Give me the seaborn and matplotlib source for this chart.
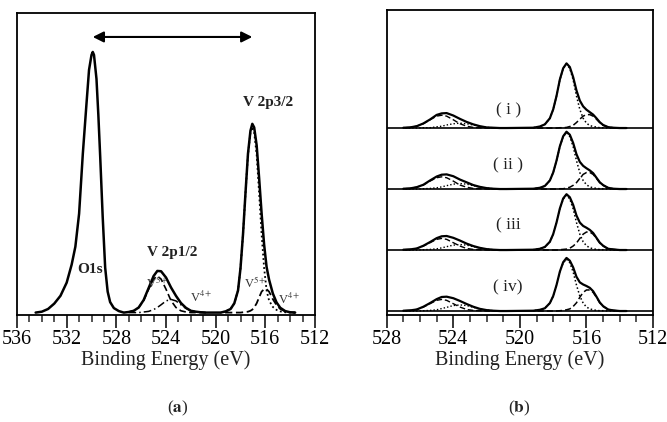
import matplotlib.pyplot as plt
import numpy as np
import seaborn as sns
from matplotlib.ticker import MultipleLocator

sns.set_style('white')
plt.rcParams['font.family'] = ['Liberation Serif', 'DejaVu Serif']
plt.rcParams['mathtext.fontset'] = 'stix'

# ---------------- panel (a): O1s + V 2p fit (intensity, arb. units) ----------------
o1s_energy = [534.5, 534.0, 533.5, 533.0, 532.5, 532.0, 531.6, 531.3, 531.0, 530.7, 530.4, 530.2,
              530.0, 529.9, 529.8, 529.6, 529.45, 529.3, 529.1, 528.9, 528.7, 528.5, 528.2, 527.8, 527.4]
o1s_counts = [0.0, 0.003, 0.012, 0.03, 0.056, 0.10, 0.16, 0.22, 0.33, 0.53, 0.70, 0.81,
              0.86, 0.87, 0.86, 0.78, 0.66, 0.52, 0.32, 0.15, 0.07, 0.035, 0.015, 0.005, 0.0]

v2p1_energy_a = [527.0, 526.6, 526.2, 525.8, 525.4, 525.0, 524.7, 524.4, 524.0, 523.6, 523.2,
                 522.8, 522.4, 522.0, 521.6, 521.2, 520.8]
v2p1_v5_a = [0.002, 0.006, 0.017, 0.040, 0.078, 0.112, 0.122, 0.112, 0.078, 0.040, 0.017,
             0.006, 0.002, 0.0, 0.0, 0.0, 0.0]
v2p1_v4_a = [0.0, 0.0, 0.0, 0.002, 0.004, 0.010, 0.017, 0.026, 0.039, 0.044, 0.039,
             0.026, 0.014, 0.006, 0.003, 0.001, 0.0]

v2p3_energy_a = [519.6, 519.2, 518.8, 518.5, 518.2, 518.0, 517.8, 517.6, 517.4, 517.2, 517.05, 516.9,
                 516.7, 516.5, 516.3, 516.1, 515.9, 515.7, 515.4, 515.1, 514.8, 514.4, 514.0, 513.6]
v2p3_v5_a = [0.0, 0.004, 0.012, 0.031, 0.074, 0.149, 0.260, 0.397, 0.527, 0.601, 0.620, 0.601,
             0.527, 0.397, 0.260, 0.149, 0.074, 0.040, 0.019, 0.009, 0.004, 0.001, 0.0, 0.0]
v2p3_v4_a = [0.0, 0.0, 0.0, 0.0, 0.0, 0.0, 0.001, 0.002, 0.003, 0.006, 0.010, 0.017,
             0.031, 0.051, 0.070, 0.078, 0.078, 0.070, 0.045, 0.025, 0.012, 0.004, 0.001, 0.0]

# ---------------- panel (b): V 2p for four samples ----------------
sample_labels = ['( i )', '( ii )', '( iii', '( iv)']

v2p1_energy_b = [527.0, 526.6, 526.2, 525.8, 525.4, 525.0, 524.7, 524.4, 524.0, 523.6, 523.2,
                 522.8, 522.4, 522.0, 521.6, 521.2, 520.8]
v2p1_v5_b = [
    [0.001, 0.002, 0.006, 0.014, 0.027, 0.039, 0.042, 0.039, 0.027, 0.014, 0.006, 0.002, 0.001, 0.0, 0.0, 0.0, 0.0],
    [0.001, 0.002, 0.006, 0.013, 0.026, 0.037, 0.040, 0.037, 0.026, 0.013, 0.006, 0.002, 0.001, 0.0, 0.0, 0.0, 0.0],
    [0.001, 0.002, 0.005, 0.013, 0.024, 0.035, 0.038, 0.035, 0.024, 0.013, 0.005, 0.002, 0.001, 0.0, 0.0, 0.0, 0.0],
    [0.001, 0.002, 0.005, 0.013, 0.024, 0.035, 0.038, 0.035, 0.024, 0.013, 0.005, 0.002, 0.001, 0.0, 0.0, 0.0, 0.0],
]
v2p1_v4_b = [
    [0.0, 0.0, 0.0, 0.001, 0.001, 0.004, 0.006, 0.010, 0.014, 0.016, 0.014, 0.010, 0.005, 0.002, 0.001, 0.0, 0.0],
    [0.0, 0.0, 0.0, 0.001, 0.002, 0.004, 0.007, 0.011, 0.016, 0.018, 0.016, 0.011, 0.006, 0.003, 0.001, 0.0, 0.0],
    [0.0, 0.0, 0.0, 0.001, 0.002, 0.004, 0.007, 0.011, 0.016, 0.018, 0.016, 0.011, 0.006, 0.003, 0.001, 0.0, 0.0],
    [0.0, 0.0, 0.0, 0.001, 0.002, 0.004, 0.008, 0.012, 0.018, 0.020, 0.018, 0.012, 0.006, 0.003, 0.001, 0.0, 0.0],
]

v2p3_energy_b = [519.2, 518.8, 518.5, 518.2, 518.0, 517.8, 517.6, 517.4, 517.2, 517.0, 516.8, 516.6,
                 516.4, 516.2, 516.0, 515.8, 515.6, 515.4, 515.2, 515.0, 514.7, 514.4, 514.0, 513.6]
v2p3_v5_b = [
    [0.001, 0.005, 0.012, 0.032, 0.061, 0.105, 0.158, 0.195, 0.210, 0.195, 0.158, 0.105,
     0.061, 0.032, 0.016, 0.008, 0.005, 0.003, 0.001, 0.001, 0.0, 0.0, 0.0, 0.0],
    [0.001, 0.004, 0.010, 0.028, 0.054, 0.093, 0.139, 0.172, 0.185, 0.172, 0.139, 0.093,
     0.054, 0.028, 0.014, 0.007, 0.004, 0.002, 0.001, 0.001, 0.0, 0.0, 0.0, 0.0],
    [0.001, 0.004, 0.010, 0.027, 0.052, 0.090, 0.135, 0.167, 0.180, 0.167, 0.135, 0.090,
     0.052, 0.027, 0.014, 0.007, 0.004, 0.002, 0.001, 0.001, 0.0, 0.0, 0.0, 0.0],
    [0.001, 0.004, 0.009, 0.026, 0.049, 0.085, 0.128, 0.158, 0.170, 0.158, 0.128, 0.085,
     0.049, 0.026, 0.013, 0.007, 0.004, 0.002, 0.001, 0.001, 0.0, 0.0, 0.0, 0.0],
]
v2p3_v4_b = [
    [0.0, 0.0, 0.0, 0.0, 0.0, 0.0, 0.001, 0.001, 0.002, 0.005, 0.009, 0.018,
     0.029, 0.039, 0.044, 0.044, 0.039, 0.029, 0.018, 0.009, 0.003, 0.001, 0.0, 0.0],
    [0.0, 0.0, 0.0, 0.0, 0.0, 0.0, 0.001, 0.001, 0.003, 0.006, 0.012, 0.021,
     0.035, 0.048, 0.054, 0.054, 0.048, 0.035, 0.021, 0.012, 0.004, 0.001, 0.0, 0.0],
    [0.0, 0.0, 0.0, 0.0, 0.0, 0.0, 0.001, 0.002, 0.003, 0.006, 0.013, 0.023,
     0.038, 0.052, 0.059, 0.059, 0.052, 0.038, 0.023, 0.013, 0.004, 0.002, 0.0, 0.0],
    [0.0, 0.0, 0.0, 0.0, 0.0, 0.0, 0.001, 0.002, 0.004, 0.007, 0.015, 0.027,
     0.045, 0.061, 0.069, 0.069, 0.061, 0.045, 0.027, 0.015, 0.005, 0.002, 0.0, 0.0],
]

DASHED = (0, (4, 2))
DOTTED = (0, (1, 1.5))
DASHDOT = (0, (5, 2, 1, 2))


def draw(ax, x, y, ls='-', lw=1.6, offset=0.0):
    sns.lineplot(x=np.asarray(x, dtype=float), y=np.asarray(y, dtype=float) + offset, ax=ax,
                 color='black', linewidth=lw, linestyle=ls, estimator=None, sort=True)


def style_axis(ax, xmin, xmax):
    ax.set_xlim(xmin, xmax)
    ax.xaxis.set_major_locator(MultipleLocator(4))
    ax.xaxis.set_minor_locator(MultipleLocator(1))
    ax.tick_params(axis='x', which='major', direction='out', length=9, width=1.1,
                   labelsize=14.5, pad=2, bottom=True, colors='black')
    ax.tick_params(axis='x', which='minor', direction='out', length=5, width=1.1, bottom=True)
    ax.set_yticks([])
    ax.set_ylabel('')
    ax.set_xlabel('Binding Energy (eV)', fontsize=14.5, labelpad=1, color='#222222')
    for sp in ax.spines.values():
        sp.set_linewidth(1.3)
        sp.set_color('black')
        sp.set_visible(True)


fig = plt.figure(figsize=(6.67, 4.22), dpi=100)
ax_a = fig.add_axes([0.0255, 0.2536, 0.4468, 0.7156])
ax_b = fig.add_axes([0.5798, 0.2536, 0.3993, 0.7227])

# ---- (a) ----
env_x = o1s_energy + v2p1_energy_a + v2p3_energy_a
env_y = o1s_counts + list(np.add(v2p1_v5_a, v2p1_v4_a)) + list(np.add(v2p3_v5_a, v2p3_v4_a))
draw(ax_a, env_x, env_y, lw=1.8)
draw(ax_a, v2p1_energy_a, v2p1_v5_a, ls=DASHED, lw=1.2)
draw(ax_a, v2p1_energy_a, v2p1_v4_a, ls=DASHDOT, lw=1.1)
draw(ax_a, v2p3_energy_a, v2p3_v5_a, ls=DOTTED, lw=1.3)
draw(ax_a, v2p3_energy_a, v2p3_v4_a, ls=DASHED, lw=1.3)
ax_a.set_ylim(-0.008, 1.0)
style_axis(ax_a, 536, 512)

ax_a.annotate('', xy=(517.05, 0.92), xytext=(529.9, 0.92),
              arrowprops=dict(arrowstyle='<|-|>', color='black', lw=1.5,
                              mutation_scale=16, shrinkA=0, shrinkB=0))
bold = dict(fontsize=11, fontweight='bold', ha='center', va='center', color='#222222')
ax_a.text(515.76, 0.70, 'V 2p3/2', **bold)
ax_a.text(523.5, 0.199, 'V 2p1/2', **bold)
ax_a.text(530.1, 0.145, 'O1s', **bold)
small = dict(fontsize=9, ha='center', va='center', color='#333333')
ax_a.text(524.7, 0.099, r'V$^{5+}$', **small)
ax_a.text(521.2, 0.05, r'V$^{4+}$', **small)
ax_a.text(516.8, 0.099, r'V$^{5+}$', **small)
ax_a.text(514.1, 0.043, r'V$^{4+}$', **small)

# ---- (b) ----
offsets = [0.613, 0.413, 0.213, 0.013]
label_y = [0.67, 0.49, 0.295, 0.092]
for k in range(4):
    off = offsets[k]
    ax_b.axhline(off, color='black', lw=1.2)
    ex = v2p1_energy_b + v2p3_energy_b
    ey = list(np.add(v2p1_v5_b[k], v2p1_v4_b[k])) + list(np.add(v2p3_v5_b[k], v2p3_v4_b[k]))
    draw(ax_b, ex, ey, lw=1.6, offset=off)
    draw(ax_b, v2p1_energy_b, v2p1_v5_b[k], ls=DASHED, lw=1.0, offset=off)
    draw(ax_b, v2p1_energy_b, v2p1_v4_b[k], ls=DOTTED, lw=1.0, offset=off)
    draw(ax_b, v2p3_energy_b, v2p3_v5_b[k], ls=DOTTED, lw=1.1, offset=off)
    draw(ax_b, v2p3_energy_b, v2p3_v4_b[k], ls=DASHED, lw=1.1, offset=off)
    ax_b.text(520.7, label_y[k], sample_labels[k], fontsize=12.5, ha='center', va='center',
              color='#222222')
ax_b.set_ylim(0, 1.0)
style_axis(ax_b, 528, 512)

fig.text(178 / 667, 1 - 408 / 422, r'($\mathbf{a}$)', ha='center', va='center', fontsize=12.5)
fig.text(519 / 667, 1 - 408 / 422, r'($\mathbf{b}$)', ha='center', va='center', fontsize=12.5)

fig.savefig('out.png', dpi=100)
